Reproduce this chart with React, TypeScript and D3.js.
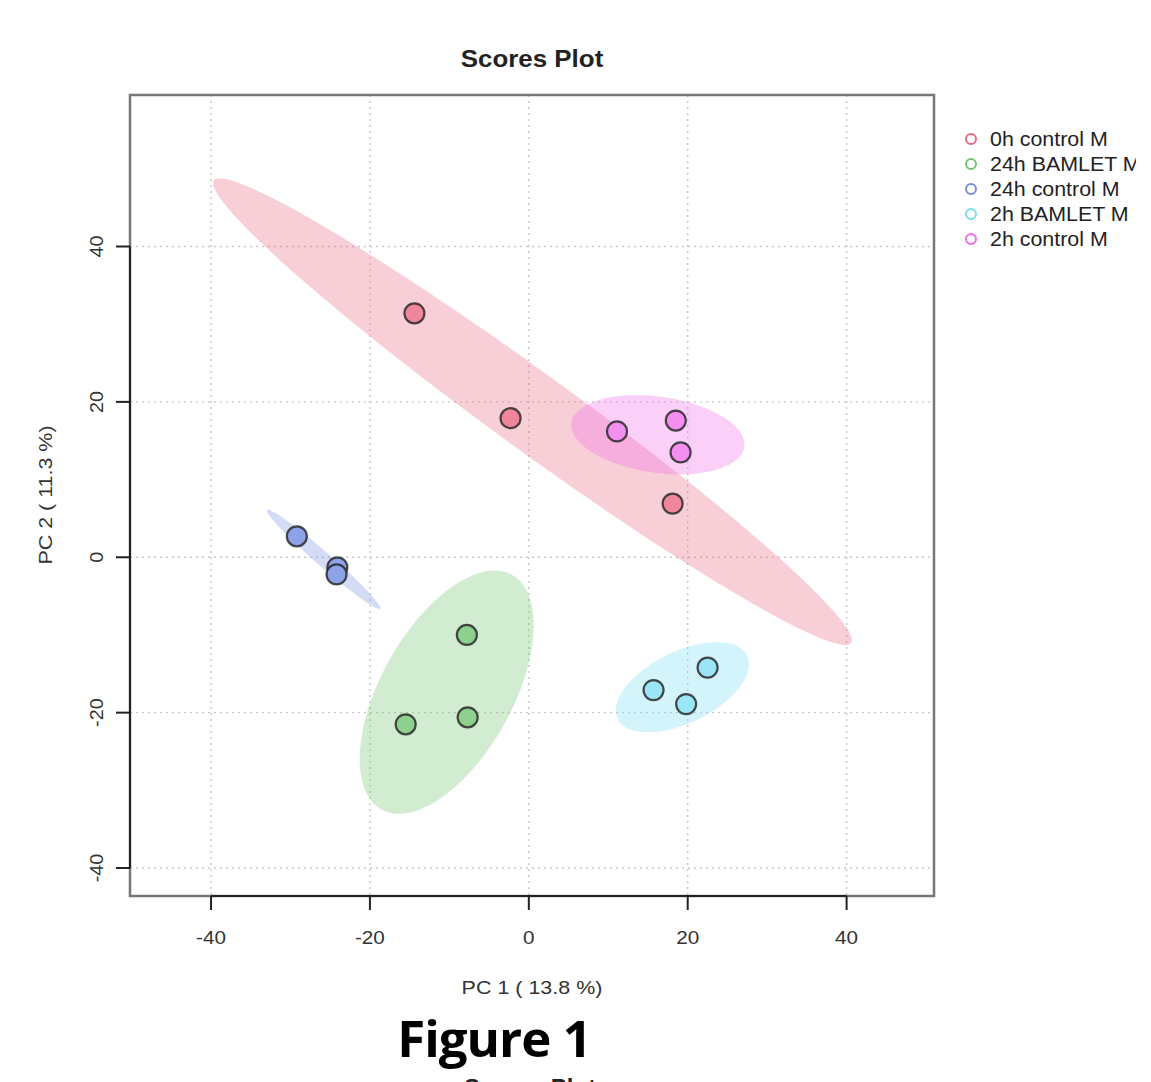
import React from 'react';
import * as d3 from 'd3';

// groups, in legend order
const groups = ['0h control M', '24h BAMLET M', '24h control M', '2h BAMLET M', '2h control M'];
const strokeColors = ['#EC6A82', '#74C474', '#7A8EE0', '#7ADCF2', '#EE6EE8'];
const fillColors = ['#F0869C', '#8ED08E', '#8EA2EA', '#9AE6F6', '#F48EF0'];

// PC1 / PC2 scores
const pc1 = [
  [-14.4, -2.3, 18.1],
  [-7.8, -15.5, -7.7],
  [-29.2, -24.1, -24.2],
  [15.7, 19.8, 22.5],
  [11.1, 18.5, 19.1],
];
const pc2 = [
  [31.4, 17.9, 6.9],
  [-10.0, -21.5, -20.6],
  [2.7, -1.3, -2.2],
  [-17.1, -18.9, -14.2],
  [16.2, 17.6, 13.5],
];

const xTicks = [-40, -20, 0, 20, 40];
const yTicks = [-40, -20, 0, 20, 40];
const xDomain = [-50.2, 51.0];
const yDomain = [-43.6, 59.5];

// 95% level, sqrt(qchisq(0.95, 2))
const ELLIPSE_T = 2.4477;

function ellipsePoints(xs: number[], ys: number[]): [number, number][] {
  const n = xs.length;
  const mx = d3.mean(xs)!;
  const my = d3.mean(ys)!;
  let sxx = 0, syy = 0, sxy = 0;
  for (let i = 0; i < n; i++) {
    sxx += (xs[i] - mx) ** 2;
    syy += (ys[i] - my) ** 2;
    sxy += (xs[i] - mx) * (ys[i] - my);
  }
  sxx /= n - 1; syy /= n - 1; sxy /= n - 1;
  const tr = sxx + syy;
  const det = sxx * syy - sxy * sxy;
  const disc = Math.sqrt(Math.max(0, tr * tr / 4 - det));
  const l1 = tr / 2 + disc;
  const l2 = Math.max(0, tr / 2 - disc);
  const theta = Math.abs(sxy) < 1e-12 ? (sxx >= syy ? 0 : Math.PI / 2) : Math.atan2(l1 - sxx, sxy);
  const a = ELLIPSE_T * Math.sqrt(l1);
  const b = ELLIPSE_T * Math.sqrt(l2);
  const pts: [number, number][] = [];
  for (let k = 0; k < 120; k++) {
    const t = (k / 120) * Math.PI * 2;
    const u = a * Math.cos(t);
    const v = b * Math.sin(t);
    pts.push([mx + u * Math.cos(theta) - v * Math.sin(theta), my + u * Math.sin(theta) + v * Math.cos(theta)]);
  }
  return pts;
}

const W = 1151;
const H = 1082;
const left = 130, right = 934, top = 95, bottom = 896;

export default function App() {
  const x = d3.scaleLinear().domain(xDomain).range([left, right]);
  const y = d3.scaleLinear().domain(yDomain).range([bottom, top]);
  const line = d3.line<[number, number]>()
    .x((d) => x(d[0]))
    .y((d) => y(d[1]))
    .curve(d3.curveLinearClosed);

  const font = '"Liberation Sans", Arial, sans-serif';

  return (
    <div>
      <style>{'body{margin:0}'}</style>
      <svg width={W} height={H} style={{ display: 'block', fontFamily: font }}>
        <defs>
          <clipPath id="plotClip">
            <rect x={left} y={top} width={right - left} height={bottom - top} />
          </clipPath>
          <clipPath id="legendClip">
            <rect x={950} y={110} width={186} height={150} />
          </clipPath>
        </defs>
        <rect width={W} height={H} fill="#fff" />

        <text x={532} y={67} textAnchor="middle" fontSize={24} fontWeight="bold" fill="#222" transform="translate(532 0) scale(1.08 1) translate(-532 0)">Scores Plot</text>

        {/* grid */}
        <g stroke="#c8c8c8" strokeWidth={1.4} strokeDasharray="2,4">
          {xTicks.map((t) => (
            <line key={'gx' + t} x1={x(t)} x2={x(t)} y1={top} y2={bottom} />
          ))}
          {yTicks.map((t) => (
            <line key={'gy' + t} x1={left} x2={right} y1={y(t)} y2={y(t)} />
          ))}
        </g>

        {/* ellipses */}
        <g clipPath="url(#plotClip)">
          {groups.map((g, i) => (
            <path key={'e' + g} d={line(ellipsePoints(pc1[i], pc2[i])) || ''} fill={strokeColors[i]} fillOpacity={0.32} stroke="none" />
          ))}
        </g>

        {/* points */}
        <g>
          {groups.map((g, i) =>
            pc1[i].map((v, j) => (
              <circle key={g + j} cx={x(v)} cy={y(pc2[i][j])} r={10} fill={fillColors[i]} stroke="#2a2a2a" strokeWidth={2.2} strokeOpacity={0.85} />
            ))
          )}
        </g>

        {/* box */}
        <rect x={left} y={top} width={right - left} height={bottom - top} fill="none" stroke="#777" strokeWidth={2.5} />

        {/* x axis */}
        <g stroke="#222" strokeWidth={2}>
          <line x1={x(xTicks[0])} x2={x(xTicks[xTicks.length - 1])} y1={bottom} y2={bottom} />
          {xTicks.map((t) => (
            <line key={'tx' + t} x1={x(t)} x2={x(t)} y1={bottom} y2={bottom + 14} />
          ))}
        </g>
        <g fontSize={18} fill="#333" textAnchor="middle">
          {xTicks.map((t) => (
            <text key={'lx' + t} x={x(t)} y={944} transform={`translate(${x(t)} 0) scale(1.15 1) translate(${-x(t)} 0)`}>{t}</text>
          ))}
        </g>
        <text x={532} y={994} textAnchor="middle" fontSize={19} fill="#333" transform="translate(532 0) scale(1.13 1) translate(-532 0)">PC 1 ( 13.8 %)</text>

        {/* y axis */}
        <g stroke="#222" strokeWidth={2}>
          <line x1={left} x2={left} y1={y(yTicks[0])} y2={y(yTicks[yTicks.length - 1])} />
          {yTicks.map((t) => (
            <line key={'ty' + t} x1={left - 14} x2={left} y1={y(t)} y2={y(t)} />
          ))}
        </g>
        <g fontSize={18} fill="#333" textAnchor="middle">
          {yTicks.map((t) => (
            <text key={'ly' + t} transform={`translate(103, ${y(t)}) rotate(-90) scale(1.1 1)`}>{t}</text>
          ))}
        </g>
        <text transform="translate(52, 495) rotate(-90) scale(1.13 1)" textAnchor="middle" fontSize={19} fill="#333">PC 2 ( 11.3 %)</text>

        {/* legend */}
        <g clipPath="url(#legendClip)">
          {groups.map((g, i) => (
            <g key={'lg' + g} transform={`translate(971, ${139 + i * 25})`}>
              <circle r={5} fill="none" stroke={strokeColors[i]} strokeWidth={2} />
              <text x={19} y={7} fontSize={20} fill="#222" transform="translate(19 0) scale(1.07 1) translate(-19 0)">{g}</text>
            </g>
          ))}
        </g>

        {/* caption */}
        <text x={494} y={1057} textAnchor="middle" fontSize={51} fontWeight="bold" fill="#000" fontFamily='"Open Sans", "Noto Sans", sans-serif' letterSpacing={-1}>Figure 1</text>
        <text x={530} y={1096} textAnchor="middle" fontSize={24} fontWeight="bold" fill="#222">Scores Plot</text>
      </svg>
    </div>
  );
}
